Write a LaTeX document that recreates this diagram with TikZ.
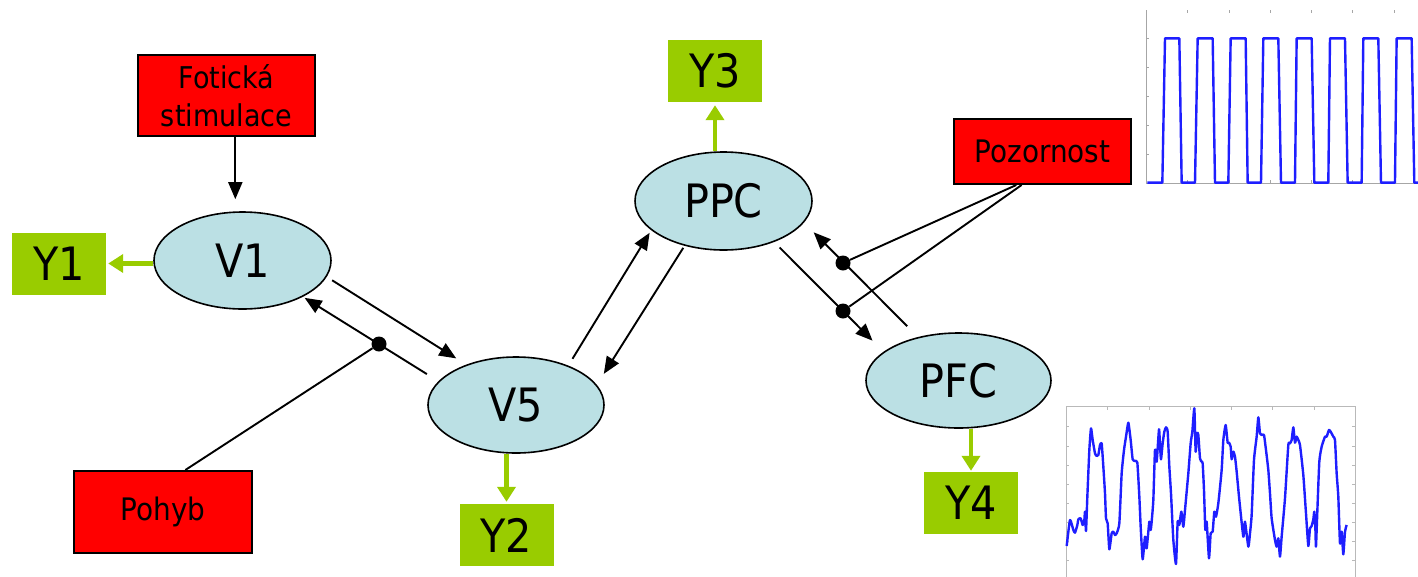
\documentclass[tikz,border=0pt]{standalone}
\usepackage{fontspec}
\setmainfont{DejaVu Sans Condensed}
\usetikzlibrary{arrows.meta,shapes.geometric}

\definecolor{areafill}{RGB}{187,224,228}
\definecolor{ygreen}{RGB}{153,204,0}
\definecolor{sigblue}{RGB}{30,30,255}

\tikzset{
  area/.style={ellipse, draw=black, line width=1.6pt, fill=areafill,
    inner sep=0pt, font=\fontsize{46}{50}\selectfont},
  inbox/.style={rectangle, draw=black, line width=2pt, fill=red,
    inner sep=0pt, align=center, font=\fontsize{31}{38}\selectfont},
  outbox/.style={rectangle, fill=ygreen, inner sep=0pt,
    minimum width=94pt, minimum height=62pt, font=\fontsize{46}{50}\selectfont},
  link/.style={line width=1.9pt, -{Triangle[length=17pt,width=14pt]}},
  plain/.style={line width=1.9pt},
  outlink/.style={draw=ygreen, line width=4.5pt, -{Triangle[length=15pt,width=18pt]}},
  junction/.style={circle, fill=black, inner sep=0pt, minimum size=15pt},
  frame/.style={draw=gray!55, line width=1pt},
  signal/.style={draw=sigblue, line width=2.4pt, line join=round},
}

\begin{document}
\begin{tikzpicture}[x=1pt, y=-1pt]
\useasboundingbox (0,0) rectangle (1418,576);

% cortical areas
\node[area, minimum width=177pt, minimum height=97pt] (V1)  at (242.5,260.5) {V1};
\node[area, minimum width=176pt, minimum height=96pt] (V5)  at (516,405) {V5};
\node[area, minimum width=177pt, minimum height=98pt] (PPC) at (723.5,201) {PPC};
\node[area, minimum width=185pt, minimum height=95pt] (PFC) at (958.5,380.5) {PFC};

% inputs
\node[inbox, minimum width=177pt, minimum height=81pt, font=\fontsize{30}{38}\selectfont]
  (Foto) at (226.5,95.5) {Fotická\\stimulace};
\node[inbox, minimum width=178pt, minimum height=82pt] (Pohyb) at (163,512) {Pohyb};
\node[inbox, minimum width=177pt, minimum height=65pt] (Poz) at (1042.5,151.5) {Pozornost};

% outputs
\node[outbox] (Y1) at (59,263.5) {Y1};
\node[outbox] (Y2) at (506.5,535) {Y2};
\node[outbox] (Y3) at (715,71) {Y3};
\node[outbox] (Y4) at (971,503) {Y4};

% modulation junctions
\node[junction] (j1) at (379,344) {};
\node[junction] (j2) at (843,263) {};
\node[junction] (j3) at (843,311) {};

% driving input
\draw[link, shorten >=12pt] (Foto.-78.1) -- (Foto.-78.1 |- V1.north);

% forward and backward connections
\draw[link, shorten <=6.4pt, shorten >=11.7pt] (V1.-11.4) -- (V5.141);
\draw[link, shorten <=13.6pt, shorten >=2pt] (V5.163.6) -- (V1.-31.6);
\draw[link, shorten <=8pt, shorten >=3pt] (V5.37.7) -- (PPC.202.7);
\draw[link, shorten <=2.4pt, shorten >=13pt] (PPC.-131.3) -- (V5.14);
\draw[link, shorten <=7.8pt, shorten >=15.6pt] (PPC.-39.3) -- (PFC.159.2);
\draw[link, shorten <=15.2pt, shorten >=13.7pt] (PFC.133.6) -- (PPC.-15);

% modulatory inputs
\draw[plain] (Pohyb.62) -- (j1);
\draw[plain] (Poz.-128) -- (j2);
\draw[plain] (Poz.-122) -- (j3);

% observed responses
\draw[outlink, shorten >=2pt] (V1.west |- Y1.east) -- (Y1.east);
\draw[outlink, shorten >=2pt] (V5.south -| Y2.north) -- (Y2.north);
\draw[outlink, shorten >=3pt] (PPC.north -| Y3.south) -- (Y3.south);
\draw[outlink, shorten >=1pt] (PFC.south -| Y4.north) -- (Y4.north);

\begin{scope}
\clip (0,0) rectangle (1418,576);

% stimulus time course
\begin{scope}[shift={(1130,0)}, x=0.3333pt, y=-0.3333pt]
  \draw[draw=gray!70, line width=1pt] (48,30) -- (48,550) -- (900,550);
  \foreach \tx in {173,297,421,545,669,793} {
    \draw[draw=gray!70, line width=1pt] (\tx,30) -- (\tx,40);
    \draw[draw=gray!70, line width=1pt] (\tx,550) -- (\tx,540);
  }
  \foreach \ty in {115,202,289,376,463} {
    \draw[draw=gray!70, line width=1pt] (48,\ty) -- (58,\ty);
  }
  \draw[signal] (52,548) -- (97,548) -- (105,115) -- (148,115) -- (155,548)
    -- (195,548) -- (203,115) -- (248,115) -- (255,548)
    -- (295,548) -- (302,115) -- (347,115) -- (353,548)
    -- (393,548) -- (400,115) -- (445,115) -- (453,548)
    -- (495,548) -- (500,115) -- (545,115) -- (553,548)
    -- (595,548) -- (600,115) -- (645,115) -- (653,548)
    -- (695,548) -- (700,115) -- (745,115) -- (753,548)
    -- (795,548) -- (800,115) -- (845,115) -- (853,548) -- (880,548);
\end{scope}

% measured response
\begin{scope}[shift={(1060,400)}, x=0.3333pt, y=-0.3333pt]
  \draw[frame] (18,600) -- (18,20) -- (887,20) -- (887,600);
  \foreach \tx in {143,267,391,515,639,763} {
    \draw[frame] (\tx,20) -- (\tx,30);
  }
  \foreach \ty in {80,138,196,253,311,368,425,483} {
    \draw[frame] (18,\ty) -- (28,\ty);
    \draw[frame] (887,\ty) -- (877,\ty);
  }
  \draw[signal] plot[smooth, tension=0.3] coordinates {
    (20,438) (30,360) (40,390) (45,398) (52,375) (55,358) (62,355) (68,375)
    (73,360) (75,335) (78,393) (82,290) (88,150) (93,85) (98,120) (105,160)
    (110,168) (115,165) (120,135) (125,130) (130,200) (135,280) (138,355)
    (143,370) (148,448) (155,400) (160,395) (165,405) (170,400) (178,370)
    (185,220) (192,150) (198,110) (205,68) (212,120) (218,178) (225,183)
    (232,188) (238,290) (242,380) (248,478) (255,410) (260,445) (268,365)
    (272,390) (275,365) (280,300) (285,150) (290,185) (297,88) (300,135)
    (303,178) (308,130) (313,95) (318,82) (323,95) (328,200) (333,280)
    (340,420) (348,492) (353,365) (358,375) (364,335) (370,380) (375,330)
    (385,220) (392,130) (397,95) (403,25) (407,155) (411,100) (415,105)
    (420,175) (425,185) (428,190) (432,270) (436,390) (440,365) (447,475)
    (452,400) (458,395) (463,335) (468,350) (475,310) (485,210) (490,120)
    (497,75) (503,128) (507,128) (512,140) (515,178) (520,155) (525,170)
    (530,215) (538,300) (550,410) (555,365) (565,440) (570,400) (575,345)
    (582,180) (590,110) (595,52) (600,100) (605,105) (612,105) (618,150)
    (625,210) (630,280) (635,355) (645,420) (650,440) (655,415) (660,470)
    (665,410) (675,295) (685,135) (690,130) (695,120) (700,82) (705,128)
    (710,110) (715,120) (720,135) (730,225) (738,340) (745,438) (750,385)
    (755,378) (760,358) (763,335) (766,380) (768,440) (772,335) (778,185)
    (785,140) (795,110) (800,110) (807,90) (812,95) (820,110) (825,120)
    (830,220) (835,290) (840,430) (845,395) (850,463) (855,395) (860,375)};
\end{scope}
\end{scope}
\end{tikzpicture}
\end{document}
